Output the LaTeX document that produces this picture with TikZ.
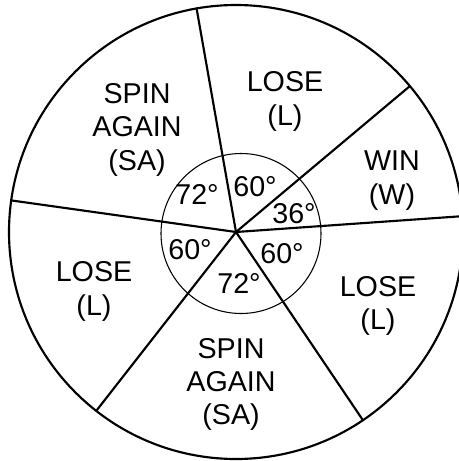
\documentclass[tikz,border=0pt]{standalone}
\usepackage{fontspec}
\setmainfont{Liberation Sans}
\begin{document}
\begin{tikzpicture}[x=0.75pt,y=-0.75pt,
  lbl/.style={font=\fontsize{21.5}{25}\selectfont, align=center, inner sep=0pt},
  deg/.style={font=\fontsize{21.5}{25}\selectfont, inner sep=0pt, anchor=base},
  spoke/.style={line width=1.6pt, line cap=round},
  rim/.style={line width=1.6pt},
  innerring/.style={line width=0.8pt}]
\useasboundingbox (0,0) rectangle (458,461);
\coordinate (hub) at (236,232);
\coordinate (ic) at (241,233.5);
% spoke end points
\path (hub) ++(100:170.25pt) coordinate (sA);
\path (hub) ++(40:170.25pt) coordinate (sB);
\path (hub) ++(4:170.25pt) coordinate (sC);
\path (hub) ++(-56:170.25pt) coordinate (sD);
\path (hub) ++(-128:170.25pt) coordinate (sE);
\path (hub) ++(172:170.25pt) coordinate (sF);
\draw[innerring] (ic) circle[radius=60pt];
\foreach \s in {sA,sB,sC,sD,sE,sF} \draw[spoke] (hub) -- (\s);
\draw[rim] (hub) circle[radius=170.25pt];
% sector labels
\node[lbl] (saU) at (137,129.7) {SPIN\\AGAIN\\(SA)};
\node[lbl] (loseT) at (285,101.5) {LOSE\\(L)};
\node[lbl] (win) at (392,180.5) {WIN\\(W)};
\node[lbl] (loseL) at (94,291.5) {LOSE\\(L)};
\node[lbl] (loseR) at (378,306) {LOSE\\(L)};
\node[lbl] (saB) at (231,384.5) {SPIN\\AGAIN\\(SA)};
% angle labels
\node[deg] (d1) at (197,204) {72°};
\node[deg] (d2) at (255,196) {60°};
\node[deg] (d3) at (294,223) {36°};
\node[deg] (d4) at (190,259) {60°};
\node[deg] (d5) at (282,263) {60°};
\node[deg] (d6) at (239,293) {72°};
\end{tikzpicture}
\end{document}
